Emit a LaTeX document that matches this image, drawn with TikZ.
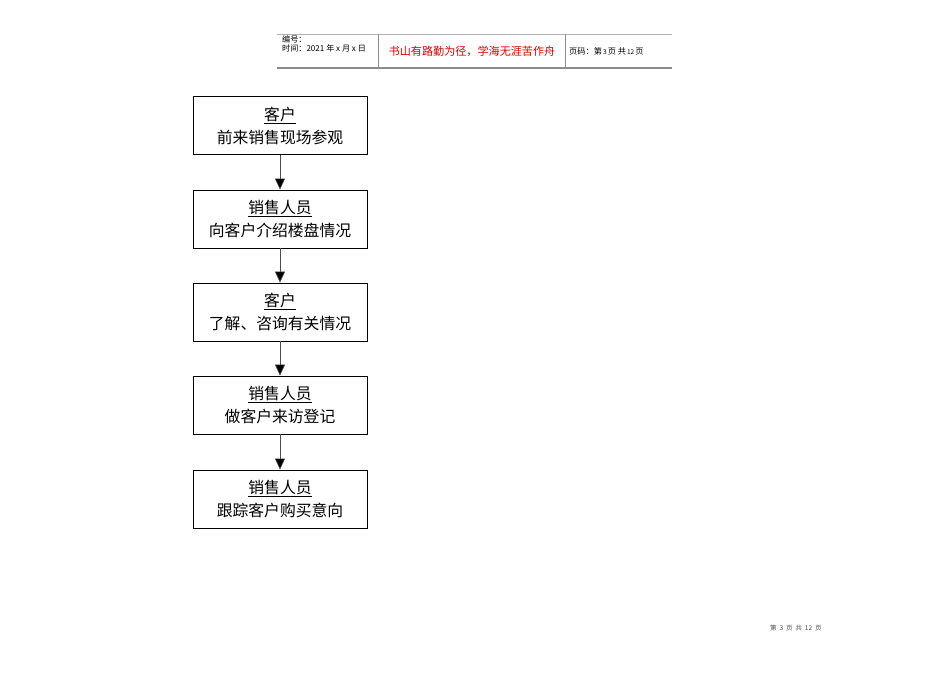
\documentclass[tikz,border=0pt]{standalone}
\usepackage{fontspec}
\setmainfont{Liberation Sans}
\newfontfamily\cjk{Noto Sans CJK SC}
\usetikzlibrary{arrows.meta}
\begin{document}
\begin{tikzpicture}[x=1pt,y=-1pt,
  stepbox/.style={draw=black,line width=0.8pt,minimum width=174pt,minimum height=58pt,inner sep=0pt,align=center,font=\cjk\fontsize{15.8}{23}\selectfont},
  flow/.style={draw=black!70,line width=0.6pt,-{Triangle[width=10pt,length=11pt,fill=black]}},
  hdr/.style={draw=black!45,line width=0.6pt},
  txt/.style={inner sep=0pt,anchor=west}]
\useasboundingbox (0,0) rectangle (950,672);
% header
\draw[hdr,draw=black!30] (277,34) -- (672,34);
\draw[hdr,line width=1.2pt] (277,68) -- (672,68);
\draw[hdr] (378,34) -- (378,68);
\draw[hdr] (565,34) -- (565,68);
\node[txt,font=\cjk\fontsize{8.1}{9}\selectfont] (bh) at (282,39) {编号：};
\node[txt,font=\cjk\fontsize{8.1}{9}\selectfont] (sj) at (282,48.5) {时间：2021 年 x 月 x 日};
\node[inner sep=0pt,text=red!85!black,font=\cjk\fontsize{11.1}{12}\selectfont] (motto) at (472,51) {书山有路勤为径，学海无涯苦作舟};
\node[txt,font=\cjk\fontsize{8.2}{9}\selectfont] (ym) at (569,51) {页码：第{\fontsize{6.5}{7}\selectfont\,3\,}页\ 共{\fontsize{6.5}{7}\selectfont\,12\,}页};
% footer
\node[txt,text=black!70,font=\cjk\fontsize{6.5}{7}\selectfont] (ft) at (770,628) {第\ \ 3\ \ 页\ \ 共\ \ 12\ \ 页};
% boxes
\node[stepbox] (b1) at (280,125.5) {\underline{客户}\\前来销售现场参观};
\node[stepbox] (b2) at (280,219) {\underline{销售人员}\\向客户介绍楼盘情况};
\node[stepbox] (b3) at (280,312) {\underline{客户}\\了解、咨询有关情况};
\node[stepbox] (b4) at (280,405) {\underline{销售人员}\\做客户来访登记};
\node[stepbox] (b5) at (280,499) {\underline{销售人员}\\跟踪客户购买意向};
\draw[flow] (b1) -- (b2);
\draw[flow] (b2) -- (b3);
\draw[flow] (b3) -- (b4);
\draw[flow] (b4) -- (b5);
\end{tikzpicture}
\end{document}
